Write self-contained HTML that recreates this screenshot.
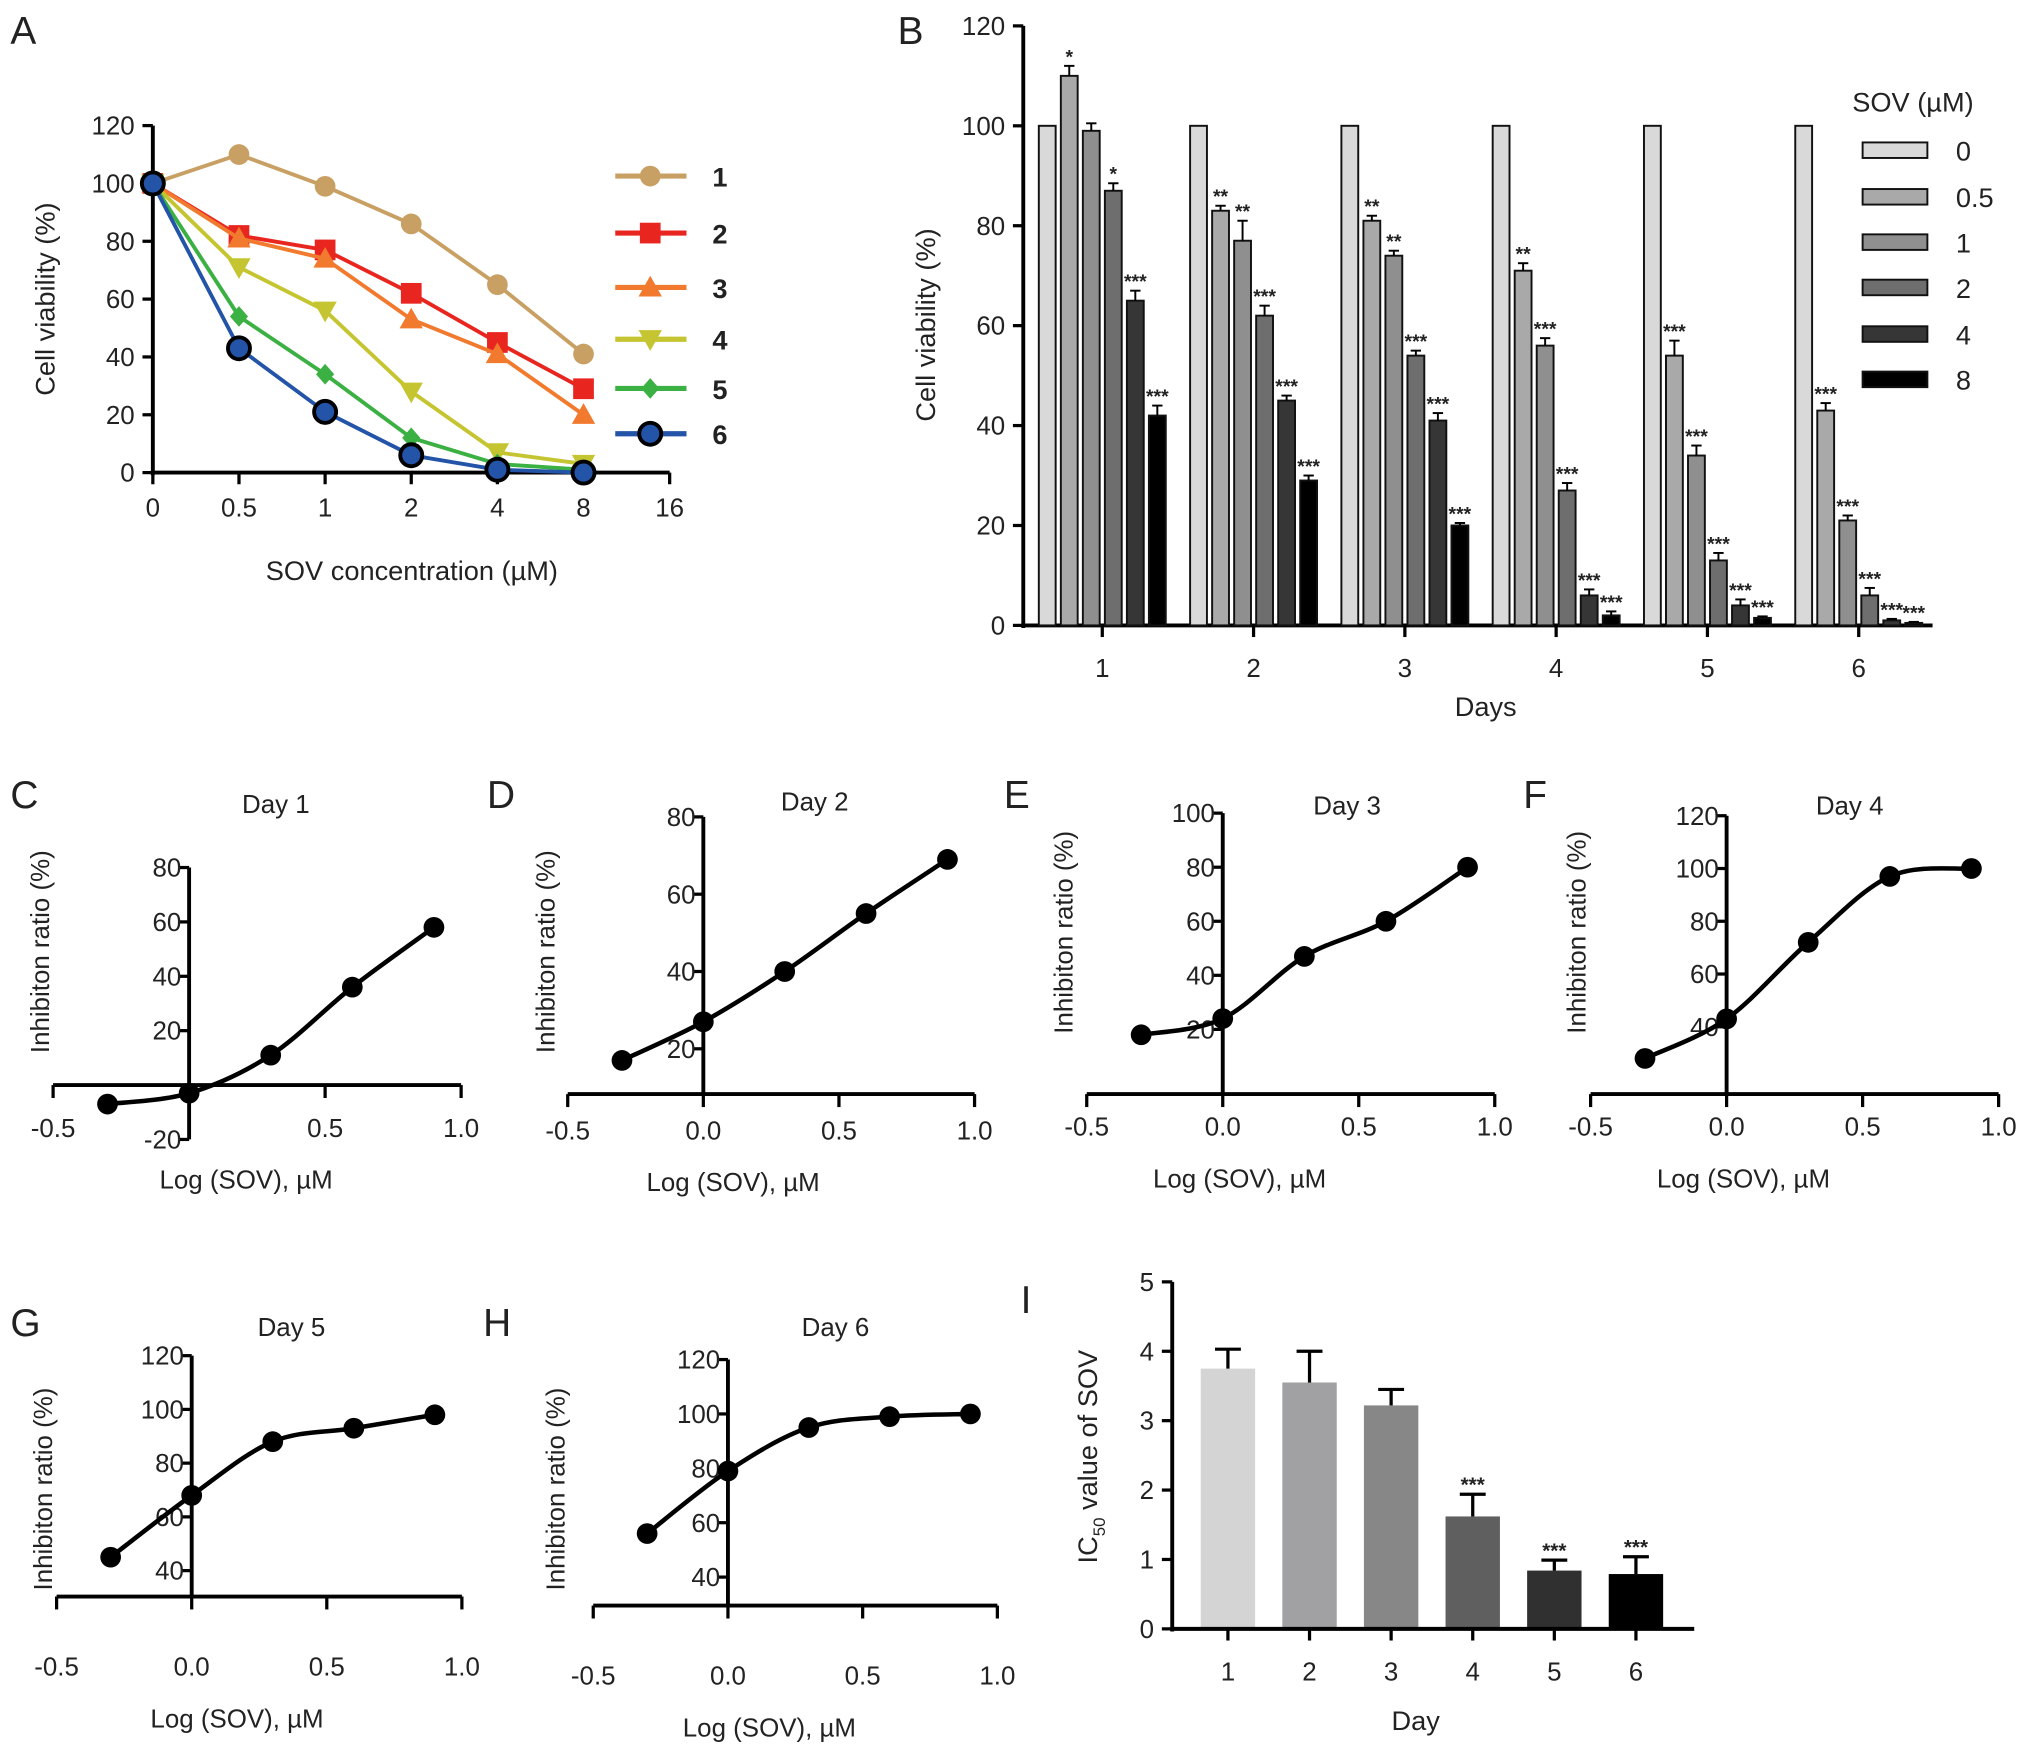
<!DOCTYPE html>
<html><head><meta charset="utf-8"><style>
html,body{margin:0;padding:0;background:#fff;}
svg{display:block;font-family:"Liberation Sans",sans-serif;}
</style></head><body>
<svg id="fig" width="2031" height="1748" viewBox="0 0 1568 1350" preserveAspectRatio="none"></svg>
<script>
// ---------- Panel A data ----------
const aCats = ["0","0.5","1","2","4","8","16"];
const aS1 = [100,110,99,86,65,41];
const aS2 = [100,82,77,62,45,29];
const aS3 = [100,81,74,53,41,20];
const aS4 = [100,71,56,28,7,3];
const aS5 = [100,54,34,12,3,1];
const aS6 = [100,43,21,6,1,0];
const aYTicks = [0,20,40,60,80,100,120];
const aLegend = ["1","2","3","4","5","6"];
// ---------- Panel B data ----------
const bDays = ["1","2","3","4","5","6"];
const bDoses = ["0","0.5","1","2","4","8"];
const bD0 = [100,100,100,100,100,100];
const bD05 = [110,83,81,71,54,43];
const bD1 = [99,77,74,56,34,21];
const bD2 = [87,62,54,27,13,6];
const bD4 = [65,45,41,6,4,1];
const bD8 = [42,29,20,2,1.5,0.5];
const bErr05 = [2,1,1,1.5,3,1.5];
const bErr1 = [1.5,4,1,1.5,2,1];
const bErr2 = [1.5,2,1,1.5,1.5,1.5];
const bErr4 = [2,1,1.5,1.2,1.2,0.3];
const bErr8 = [2,1,0.5,0.8,0.3,0.2];
const bStar05 = ["*","**","**","**","***","***"];
const bStar1 = ["","**","**","***","***","***"];
const bStar2 = ["*","***","***","***","***","***"];
const bStar4 = ["***","***","***","***","***","***"];
const bStar8 = ["***","***","***","***","***","***"];
const bYTicks = [0,20,40,60,80,100,120];
// ---------- Panels C-H data ----------
const logX = [-0.3,0,0.3,0.6,0.9];
const cDay1 = [-7,-3,11,36,58];
const dDay2 = [17,27,40,55,69];
const eDay3 = [18,24,47,60,80];
const fDay4 = [28,43,72,97,100];
const gDay5 = [45,68,88,93,98];
const hDay6 = [56,79,95,99,100];
const xTickVals = [-0.5,0,0.5,1.0];
const xTickLabels = ["-0.5","0.0","0.5","1.0"];
// ---------- Panel I data ----------
const iDays = ["1","2","3","4","5","6"];
const iVals = [3.75,3.55,3.22,1.62,0.84,0.79];
const iErr = [0.28,0.45,0.23,0.32,0.15,0.25];
const iStars = ["","","","***","***","***"];
const iYTicks = [0,1,2,3,4,5];

const NS="http://www.w3.org/2000/svg";
const svg=document.getElementById('fig');
function el(tag,attrs,parent,txt){const e=document.createElementNS(NS,tag);for(const k in attrs)e.setAttribute(k,attrs[k]);if(txt!==undefined)e.textContent=txt;(parent||svg).appendChild(e);return e;}
function grp(name){const g=el('g',{});return g;}
function txt(g,x,y,s,size,anchor,name,extra){const t=el('text',Object.assign({x:x,y:y,'font-size':size,'text-anchor':anchor||'middle',fill:'#222'},extra||{}),g,s);return t;}
function line(g,x1,y1,x2,y2,w,c){return el('line',{x1:x1,y1:y1,x2:x2,y2:y2,stroke:c||'#000','stroke-width':w||3},g);}

const letters=[["A",20,34],["B",705,34],["C",20,624],["D",388,624],["E",787,624],["F",1188,624],["G",20,1032],["H",385,1032],["I",800,1014]];
letters.forEach(l=>{const t=el('text',{x:l[1]-12,y:l[2],'font-size':30,fill:'#222'},svg,l[0]);});

// ================= Panel A =================
(function(){
  const g=grp('panel-a-line-chart');
  const x0=118,xStep=66.5,yTop=97,yBot=365,yMax=120;
  const X=i=>x0+i*xStep, Y=v=>yBot-(v/yMax)*(yBot-yTop);
  line(g,x0,yTop,x0,yBot+2,3);line(g,x0-1.5,yBot,X(6),yBot,3);
  aYTicks.forEach(v=>{line(g,x0-8,Y(v),x0,Y(v),2.5);txt(g,x0-14,Y(v)+7,String(v),20,'end','y-tick-label');});
  aCats.forEach((c,i)=>{line(g,X(i),yBot,X(i),yBot+9,2.5);txt(g,X(i),yBot+34,c,20,'middle','x-tick-label');});
  txt(g,318,448,'SOV concentration (µM)',21,'middle','x-axis-title');
  txt(g,0,0,'Cell viability (%)',21,'middle','y-axis-title',{transform:'translate(42,231) rotate(-90)'});
  const series=[aS1,aS2,aS3,aS4,aS5,aS6];
  const cols=['#c9a063','#e8261f','#f27a2e','#c5c531','#3bb043','#2354a8'];
  function marker(gg,k,x,y){
    const c=cols[k];let m;
    if(k===0)m=el('circle',{cx:x,cy:y,r:8,fill:c},gg);
    else if(k===1)m=el('rect',{x:x-8,y:y-8,width:16,height:16,fill:c},gg);
    else if(k===2)m=el('polygon',{points:`${x},${y-9} ${x+9},${y+7} ${x-9},${y+7}`,fill:c},gg);
    else if(k===3)m=el('polygon',{points:`${x-9},${y-7} ${x+9},${y-7} ${x},${y+9}`,fill:c},gg);
    else if(k===4)m=el('polygon',{points:`${x},${y-8} ${x+7},${y} ${x},${y+8} ${x-7},${y}`,fill:c},gg);
    else m=el('circle',{cx:x,cy:y,r:8.5,fill:c,stroke:'#000','stroke-width':3},gg);
    return m;
  }
  series.forEach((s,k)=>{
    const sg=grp('series-'+(k+1));g.appendChild(sg);
    el('polyline',{points:s.map((v,i)=>X(i)+','+Y(v)).join(' '),fill:'none',stroke:cols[k],'stroke-width':3},sg);
    s.forEach((v,i)=>{const m=marker(sg,k,X(i),Y(v));});
  });
  const ly=[136,180,222,262,300,335];
  aLegend.forEach((lab,k)=>{
    const lg=grp('legend-entry-'+lab);g.appendChild(lg);
    line(lg,475,ly[k],530,ly[k],4,cols[k]);
    marker(lg,k,502,ly[k]);
    txt(lg,550,ly[k]+8,lab,21,'start','legend-label',{'font-weight':'bold'});
  });
})();

// ================= Panel B =================
(function(){
  const g=grp('panel-b-bar-chart');
  const x0=790,xEnd=1492,yTop=20,yBot=483,yMax=120;
  const Y=v=>yBot-(v/yMax)*(yBot-yTop);
  const dayX=i=>851+i*116.8;
  line(g,x0,yTop,x0,yBot+2,3);line(g,x0-1.5,yBot,xEnd,yBot,3);
  bYTicks.forEach(v=>{line(g,x0-8,Y(v),x0,Y(v),2.5);txt(g,x0-14,Y(v)+7,String(v),20,'end','y-tick-label');});
  bDays.forEach((d,i)=>{line(g,dayX(i),yBot,dayX(i),yBot+9,2.5);txt(g,dayX(i),yBot+40,d,20,'middle','x-tick-label');});
  txt(g,1147,553,'Days',21,'middle','x-axis-title');
  txt(g,0,0,'Cell viability (%)',21,'middle','y-axis-title',{transform:'translate(722,251) rotate(-90)'});
  const vals=[bD0,bD05,bD1,bD2,bD4,bD8];
  const errs=[null,bErr05,bErr1,bErr2,bErr4,bErr8];
  const stars=[null,bStar05,bStar1,bStar2,bStar4,bStar8];
  const cols=['#d9d9d9','#a9a9a9','#8f8f8f','#6e6e6e','#363636','#000'];
  bDays.forEach((d,i)=>{
    const dg=grp('day-'+d+'-group');g.appendChild(dg);
    vals.forEach((arr,k)=>{
      const cx=dayX(i)+(k-2.5)*17,w=13,v=arr[i];
      const r=el('rect',{x:cx-w/2,y:Y(v),width:w,height:yBot-Y(v),fill:cols[k],stroke:'#111','stroke-width':1.5},dg);
      
      if(errs[k]){const e=errs[k][i];const yt=Y(v+e);line(dg,cx,Y(v),cx,yt,1.5);line(dg,cx-4,yt,cx+4,yt,1.5);
        if(stars[k][i])txt(dg,cx,yt-2,stars[k][i],15,'middle','significance-stars',{'font-weight':'bold'});}
    });
  });
  const lg=grp('legend');g.appendChild(lg);
  txt(lg,1430,86,'SOV (µM)',21,'start','legend-title');
  const ly=[116,152,187,222,258,293];
  bDoses.forEach((d,k)=>{
    const r=el('rect',{x:1438,y:ly[k]-6,width:50,height:12,fill:cols[k],stroke:'#111','stroke-width':1.5},lg);
    
    txt(lg,1510,ly[k]+8,d,21,'start','legend-label');
  });
})();

// ================= Panels C-H =================
function curvePath(pts){
  let d='M'+pts[0][0]+','+pts[0][1];
  for(let i=0;i<pts.length-1;i++){
    const p0=pts[Math.max(0,i-1)],p1=pts[i],p2=pts[i+1],p3=pts[Math.min(pts.length-1,i+2)];
    const c1=[p1[0]+(p2[0]-p0[0])/6,p1[1]+(p2[1]-p0[1])/6],c2=[p2[0]-(p3[0]-p1[0])/6,p2[1]-(p3[1]-p1[1])/6];
    d+=` C${c1[0]},${c1[1]} ${c2[0]},${c2[1]} ${p2[0]},${p2[1]}`;
  }
  return d;
}
function doseChart(cfg){
  const g=grp(cfg.name);
  const X=v=>cfg.ax+v*cfg.xu*2, Y=v=>cfg.y0-(v-cfg.v0)/20*cfg.yu;
  const yAxisY=cfg.xAxisY;
  line(g,X(-0.5),yAxisY,X(1.0),yAxisY,3);
  line(g,cfg.ax,Y(cfg.ticks[cfg.ticks.length-1]),cfg.ax,Math.max(yAxisY,Y(cfg.ticks[0])),3);
  xTickVals.forEach((v,i)=>{line(g,X(v),yAxisY,X(v),yAxisY+10,2.5);
    if(!(cfg.hideZero&&v===0))txt(g,X(v),cfg.xLabY,xTickLabels[i],20,'middle','x-tick-label');});
  cfg.ticks.forEach(v=>{line(g,cfg.ax-8,Y(v),cfg.ax,Y(v),2.5);txt(g,cfg.ax-6,Y(v)+7,String(v),20,'end','y-tick-label');});
  txt(g,cfg.tx,cfg.ty,cfg.title,20,'middle','chart-title');
  txt(g,cfg.xtx,cfg.xLabY+40,'Log  (SOV), µM',20,'middle','x-axis-title',{'xml:space':'preserve'});
  txt(g,0,0,'Inhibiton ratio (%)',20,'middle','y-axis-title',{transform:`translate(${cfg.ytx},${cfg.yty}) rotate(-90)`});
  const pts=logX.map((x,i)=>[X(x),Y(cfg.data[i])]);
  const p=el('path',{d:curvePath(pts),fill:'none',stroke:'#000','stroke-width':3.5},g);
  
  pts.forEach(q=>{const c=el('circle',{cx:q[0],cy:q[1],r:8,fill:'#000'},g);});
}
doseChart({name:'panel-c-day1',data:cDay1,ax:146,xu:105,y0:838,v0:0,yu:42,xAxisY:838,ticks:[-20,20,40,60,80],hideZero:true,xLabY:878,title:'Day 1',tx:213,ty:628,xtx:190,ytx:38,yty:735});
doseChart({name:'panel-d-day2',data:dDay2,ax:543,xu:104.7,y0:810,v0:20,yu:59.7,xAxisY:845,ticks:[20,40,60,80],xLabY:880,title:'Day 2',tx:629,ty:626,xtx:566,ytx:428,yty:735});
doseChart({name:'panel-e-day3',data:eDay3,ax:944,xu:105,y0:795,v0:20,yu:41.75,xAxisY:845,ticks:[20,40,60,80,100],xLabY:877,title:'Day 3',tx:1040,ty:629,xtx:957,ytx:828,yty:720});
doseChart({name:'panel-f-day4',data:fDay4,ax:1333,xu:105,y0:793,v0:40,yu:40.75,xAxisY:845,ticks:[40,60,80,100,120],xLabY:877,title:'Day 4',tx:1428,ty:629,xtx:1346,ytx:1224,yty:720});
doseChart({name:'panel-g-day5',data:gDay5,ax:148,xu:104.3,y0:1213,v0:40,yu:41.5,xAxisY:1233,ticks:[40,60,80,100,120],xLabY:1294,title:'Day 5',tx:225,ty:1032,xtx:183,ytx:40,yty:1150});
doseChart({name:'panel-h-day6',data:hDay6,ax:562,xu:104,y0:1218,v0:40,yu:42,xAxisY:1240,ticks:[40,60,80,100,120],xLabY:1301,title:'Day 6',tx:645,ty:1032,xtx:594,ytx:436,yty:1150});

// ================= Panel I =================
(function(){
  const g=grp('panel-i-ic50-bar-chart');
  const x0=905,yTop=990,yBot=1258,yMax=5;
  const Y=v=>yBot-(v/yMax)*(yBot-yTop), X=i=>948+i*63;
  const cols=['#d4d4d4','#a1a1a3','#878787','#5f5f5f','#303030','#000'];
  iVals.forEach((v,i)=>{
    const r=el('rect',{x:X(i)-21,y:Y(v),width:42,height:yBot-Y(v),fill:cols[i]},g);
    
    const yt=Y(v+iErr[i]);line(g,X(i),Y(v),X(i),yt,2.5);line(g,X(i)-10,yt,X(i)+10,yt,2.5);
    if(iStars[i])txt(g,X(i),yt-2,iStars[i],16,'middle','significance-stars',{'font-weight':'bold'});
  });
  line(g,x0,yTop,x0,yBot+2,3);line(g,x0-1.5,yBot,1308,yBot,3);
  iYTicks.forEach(v=>{line(g,x0-8,Y(v),x0,Y(v),2.5);txt(g,x0-14,Y(v)+7,String(v),20,'end','y-tick-label');});
  iDays.forEach((d,i)=>{line(g,X(i),yBot,X(i),yBot+9,2.5);txt(g,X(i),yBot+40,d,20,'middle','x-tick-label');});
  txt(g,1093,1336,'Day',21,'middle','x-axis-title');
  const t=txt(g,0,0,'',21,'middle','y-axis-title',{transform:'translate(847,1125) rotate(-90)'});
  t.innerHTML='IC<tspan font-size="13" dy="6">50</tspan><tspan dy="-6"> value of SOV</tspan>';
})();
</script>
</body></html>
